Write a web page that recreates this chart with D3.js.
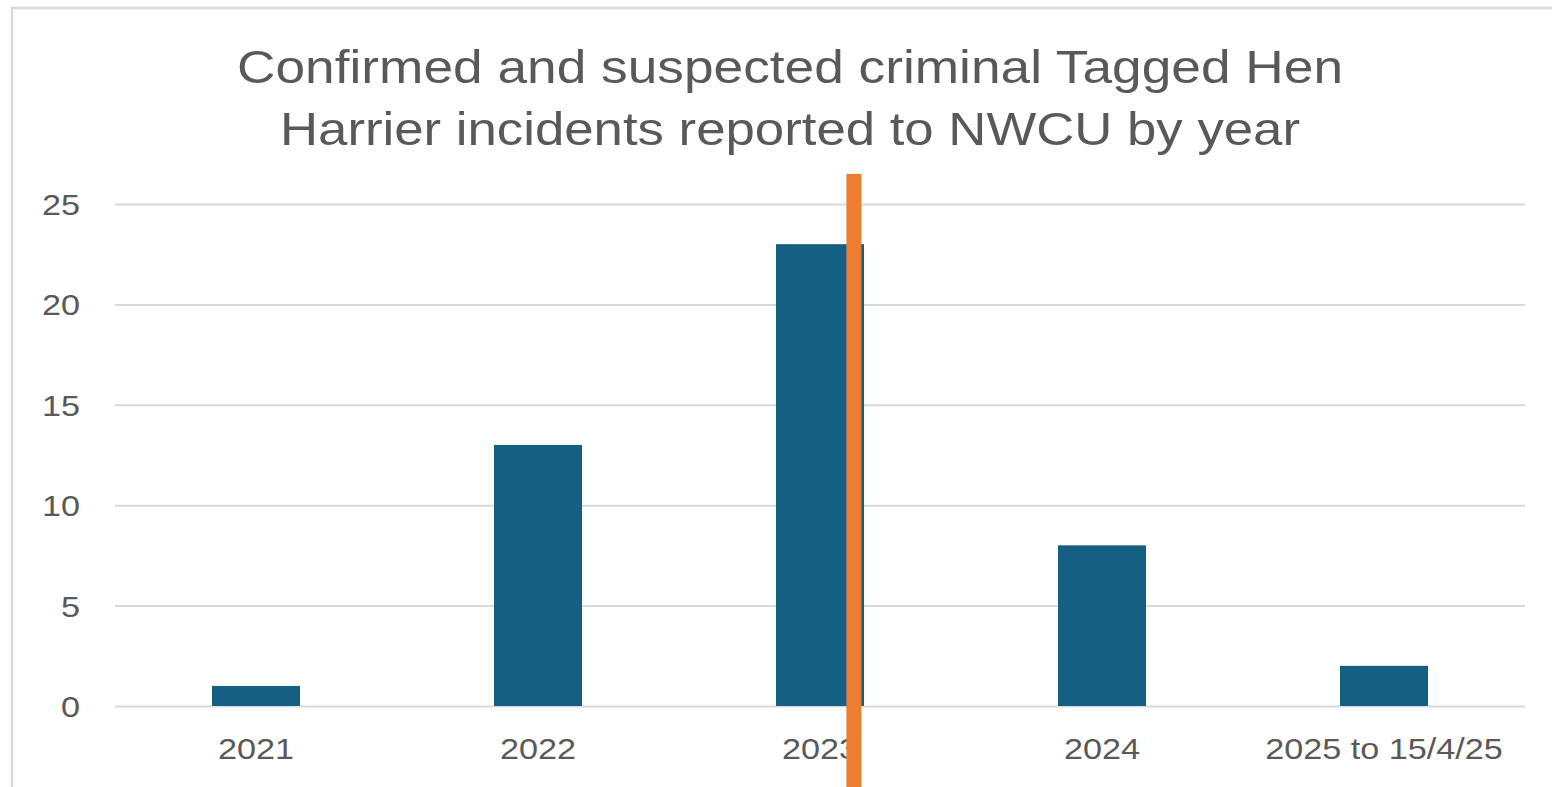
<!DOCTYPE html>
<html>
<head>
<meta charset="utf-8">
<script src="https://cdn.jsdelivr.net/npm/d3@7"></script>
<style>
  body { margin: 0; background: #fff; }
  svg { display: block; font-family: "Liberation Sans", Arial, sans-serif; }
</style>
</head>
<body>
<div id="chart"></div>
<script>
// data
var categories = ["2021", "2022", "2023", "2024", "2025 to 15/4/25"]
var incidents = [1, 13, 23, 8, 2]
var yTicks = [0, 5, 10, 15, 20, 25]
var titleLines = ["Confirmed and suspected criminal Tagged Hen",
                  "Harrier incidents reported to NWCU by year"]

// orange marker that sits over the 2023 bar
var markerCategory = "2023"
var markerTopValue = 26.5

var width = 1552
var height = 787
var plot = {left: 115, right: 1525, top: 204, bottom: 706}
var textColor = "#595959"
var stretch = 1.18   // the picture is a bit wider than normal text

var svg = d3.select("#chart")
  .append("svg")
    .attr("width", width)
    .attr("height", height)

// chart border (cut off on the right and bottom)
svg.append("rect")
  .attr("x", 12)
  .attr("y", 8)
  .attr("width", 1700)
  .attr("height", 1000)
  .attr("fill", "none")
  .attr("stroke", "#d9d9d9")
  .attr("stroke-width", 2.5)

// title
var titleWidths = [1106, 1020]
svg.selectAll("text.title")
  .data(titleLines)
  .enter()
  .append("text")
    .attr("class", "title")
    .attr("x", 790)
    .attr("y", function(d, i) { return 83 + i * 62 })
    .attr("text-anchor", "middle")
    .attr("textLength", function(d, i) { return titleWidths[i] })
    .attr("lengthAdjust", "spacingAndGlyphs")
    .style("font-size", "46px")
    .style("fill", textColor)
    .text(function(d) { return d })

var x = d3.scaleBand()
  .domain(categories)
  .range([plot.left, plot.right])
  .paddingInner(0.688)
  .paddingOuter(0.344)

var y = d3.scaleLinear()
  .domain([0, 25])
  .range([plot.bottom, plot.top])

// gridlines + y labels
var yAxis = svg.append("g")
  .attr("transform", "translate(" + plot.left + ",0)")
  .call(d3.axisLeft(y)
    .tickValues(yTicks)
    .tickSize(-(plot.right - plot.left))
    .tickPadding(0))

yAxis.select(".domain").remove()
yAxis.selectAll(".tick line")
  .attr("stroke", "#d9d9d9")
  .attr("stroke-width", 2)
yAxis.selectAll(".tick text")
  .attr("x", 0)
  .attr("transform", "translate(-35,0) scale(" + stretch + ",1)")
  .attr("dy", "0.36em")
  .style("font-size", "29px")
  .style("font-family", "Liberation Sans, Arial, sans-serif")
  .style("fill", textColor)

// bars
svg.selectAll("rect.bar")
  .data(incidents)
  .enter()
  .append("rect")
    .attr("class", "bar")
    .attr("x", function(d, i) { return x(categories[i]) })
    .attr("y", function(d) { return y(d) })
    .attr("width", x.bandwidth())
    .attr("height", function(d) { return y(0) - y(d) })
    .attr("fill", "#156082")

// x labels
var xAxis = svg.append("g")
  .attr("transform", "translate(0," + plot.bottom + ")")
  .call(d3.axisBottom(x).tickSize(0).tickPadding(0))

xAxis.select(".domain").remove()
xAxis.selectAll(".tick text")
  .attr("y", 53)
  .attr("dy", 0)
  .attr("transform", "scale(" + stretch + ",1)")
  .style("font-size", "29px")
  .style("font-family", "Liberation Sans, Arial, sans-serif")
  .style("fill", textColor)

// orange marker line drawn over everything
svg.append("rect")
  .attr("x", x(markerCategory) + x.bandwidth() * 0.8)
  .attr("y", y(markerTopValue))
  .attr("width", 15)
  .attr("height", height - y(markerTopValue))
  .attr("fill", "#ed7d31")
</script>
</body>
</html>
